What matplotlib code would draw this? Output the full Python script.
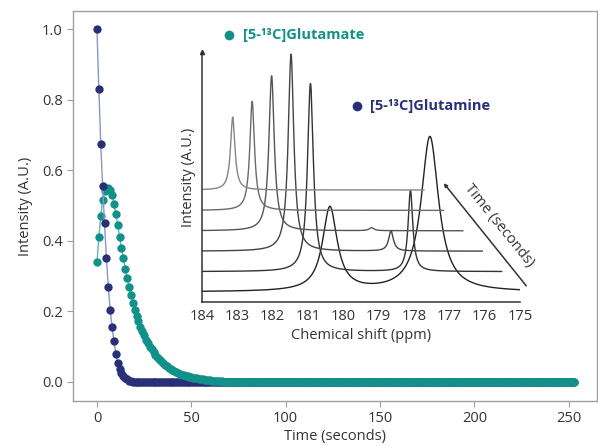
import numpy as np
import matplotlib
matplotlib.use("Agg")
import matplotlib.pyplot as plt
from matplotlib.lines import Line2D

plt.rcParams['font.family'] = ['Open Sans', 'DejaVu Sans']

# time course, 1 s sampling, 0..253 s
time_s = list(range(254))
gln_head = [1.0, 0.83, 0.675, 0.555, 0.45, 0.35, 0.27, 0.205, 0.155, 0.115,
            0.08, 0.055, 0.037, 0.025, 0.017, 0.011, 0.007, 0.004, 0.002, 0.001]
gln = gln_head + [0.0] * (len(time_s) - len(gln_head))
glu_head = [0.34, 0.41, 0.47, 0.515, 0.54, 0.548, 0.55, 0.545, 0.53, 0.505,
            0.475, 0.445, 0.41, 0.38, 0.35, 0.32, 0.295, 0.27, 0.245, 0.225,
            0.205, 0.188, 0.172, 0.157, 0.144, 0.132, 0.12, 0.11, 0.1, 0.092,
            0.084, 0.077, 0.07, 0.064, 0.058, 0.053, 0.049, 0.044, 0.04, 0.037,
            0.034, 0.031, 0.028, 0.025, 0.023, 0.021, 0.019, 0.017, 0.016, 0.014,
            0.013, 0.012, 0.011, 0.01, 0.009, 0.008, 0.007, 0.006, 0.006, 0.005,
            0.005, 0.004, 0.004, 0.003, 0.003, 0.002, 0.002, 0.001, 0.001]
glu = glu_head + [0.0] * (len(time_s) - len(glu_head))

# inset spectra, front (earliest) to back
glu_ppm = 180.38
gln_ppm = 177.55
glu_height = [84, 188, 197, 155, 109, 73]
gln_height = [155, 81, 20, 3, 0, 0]
glu_fwhm = [0.5, 0.2, 0.19, 0.18, 0.16, 0.15]
gln_fwhm = [0.6, 0.16, 0.16, 0.16, 0.16, 0.16]

teal = '#12918a'
navy = '#28307a'

fig = plt.figure(figsize=(5.98, 4.46), dpi=100)
ax = fig.add_axes([73/598, 45/446, 524/598, 390/446])

ax.plot(time_s, glu, '-', color='#5fb8b2', lw=1, zorder=2)
ax.plot(time_s, glu, 'o', color=teal, ms=6, mec='none', zorder=3)
ax.plot(time_s[:40], gln[:40], '-', color='#8f95c4', lw=1, zorder=4)
ax.plot(time_s[:40], gln[:40], 'o', color=navy, ms=6, mec='none', zorder=5)
ax.plot(time_s[40:], gln[40:], 'o', color=navy, ms=6, mec='none', zorder=1)

ax.set_xlim(-12.7, 265)
ax.set_ylim(-0.054, 1.051)
ax.set_xticks([0, 50, 100, 150, 200, 250])
ax.set_yticks([0.0, 0.2, 0.4, 0.6, 0.8, 1.0])
ax.set_yticklabels(['0.0', '0.2', '0.4', '0.6', '0.8', '1.0'])
ax.set_xlabel('Time (seconds)', fontsize=10.5, color='#333333', labelpad=2)
ax.set_ylabel('Intensity (A.U.)', fontsize=10.5, color='#333333', labelpad=6)
for s in ax.spines.values():
    s.set_color('#a0a0a0')
    s.set_linewidth(1)
ax.tick_params(colors='#a0a0a0', labelcolor='#333333', labelsize=10.5, length=4)

# inset with stacked spectra
ins = fig.add_axes([202/598, 144/446, 318/598, 250/446])
ins.patch.set_alpha(0)
ppm = np.linspace(174.97, 184.0, 1500)
dx = 0.55
dy = 20.4
shades = ['#222222', '#333333', '#444444', '#555555', '#6a6a6a', '#858585']
for k in range(len(glu_height)):
    hw1 = glu_fwhm[k] / 2
    hw2 = gln_fwhm[k] / 2
    y = (glu_height[k] * hw1**2 / ((ppm - glu_ppm)**2 + hw1**2)
         + gln_height[k] * hw2**2 / ((ppm - gln_ppm)**2 + hw2**2))
    ins.plot(ppm + k * dx, y + 10 + k * dy, color=shades[k], lw=1)
ins.set_xlim(184, 175)
ins.set_ylim(0, 250)
ins.set_xticks(range(184, 174, -1))
ins.set_yticks([])
ins.tick_params(axis='x', length=0, labelsize=10.5, labelcolor='#333333', pad=5)
ins.spines['top'].set_visible(False)
ins.spines['right'].set_visible(False)
for s in ['left', 'bottom']:
    ins.spines[s].set_color('#333333')
    ins.spines[s].set_linewidth(1.1)
ins.plot(0, 1, '^', color='#333333', ms=3, transform=ins.transAxes, clip_on=False)
ins.set_xlabel('Chemical shift (ppm)', fontsize=10.5, color='#333333', labelpad=3)
ins.set_ylabel('Intensity (A.U.)', fontsize=10.5, color='#333333', labelpad=4)

# time arrow
fig.add_artist(matplotlib.patches.FancyArrowPatch(
    (528/598, 1 - 288/446), (442/598, 1 - 181/446), transform=fig.transFigure,
    arrowstyle='-|>', mutation_scale=5, color='#333333', lw=1.1))
fig.text(499/598, 1 - 226/446, 'Time (seconds)', rotation=-51, ha='center',
         va='center', fontsize=10.5, color='#333333', rotation_mode='anchor')

# labels
fig.add_artist(Line2D([229/598], [1 - 35/446], marker='o', ms=7, color=teal,
                      mec='none', transform=fig.transFigure))
fig.text(243/598, 1 - 35/446, '[5-¹³C]Glutamate', color=teal, fontsize=10.5,
         fontweight='bold', va='center')
fig.add_artist(Line2D([357/598], [1 - 106/446], marker='o', ms=7, color=navy,
                      mec='none', transform=fig.transFigure))
fig.text(370/598, 1 - 106/446, '[5-¹³C]Glutamine', color=navy, fontsize=10.5,
         fontweight='bold', va='center')

fig.savefig('out.png', dpi=100)
